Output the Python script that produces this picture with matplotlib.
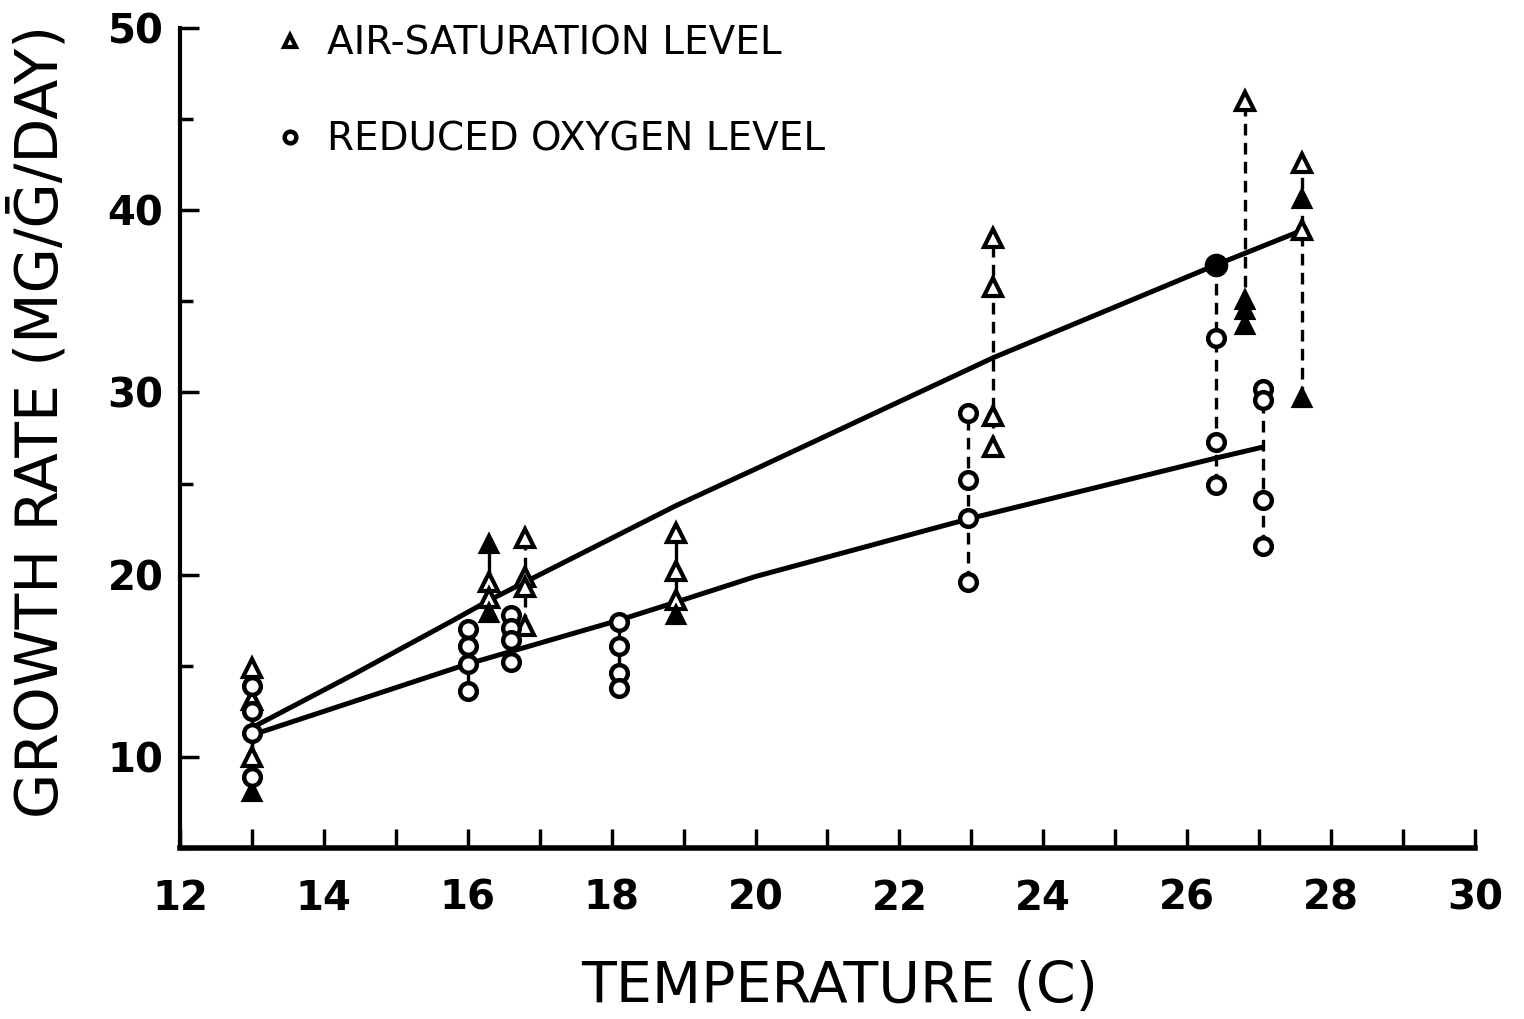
import matplotlib
matplotlib.use('Agg')
import matplotlib.pyplot as plt
import numpy as np
from matplotlib.ticker import MultipleLocator

plt.rcParams['font.family'] = 'DejaVu Sans'

# air-saturation level (triangles), one column per test temperature
air_temp = [13.0, 16.3, 16.8, 18.9, 23.3, 26.8, 27.6]
air_rates = [
    [14.9, 13.1, 10.0, 8.1],
    [21.7, 19.6, 18.7, 17.9],
    [22.0, 19.9, 19.3, 17.2],
    [22.3, 20.2, 18.6, 17.8],
    [38.5, 35.8, 28.7, 27.0],
    [46.0, 35.1, 34.5, 33.7],
    [42.6, 40.6, 38.9, 29.7],
]
air_filled = [
    [False, False, False, True],
    [True, False, False, True],
    [False, False, False, False],
    [False, False, False, True],
    [False, False, False, False],
    [False, True, True, True],
    [False, True, False, True],
]
air_dashed = [False, False, True, False, True, True, True]

# reduced oxygen level (circles)
red_temp = [13.0, 16.0, 16.6, 18.1, 22.95, 26.4, 27.05]
red_rates = [
    [13.9, 12.5, 11.3, 8.9],
    [17.0, 16.1, 15.1, 13.6],
    [17.8, 17.1, 16.4, 15.2],
    [17.4, 16.1, 14.6, 13.8],
    [28.9, 25.2, 23.1, 19.6],
    [37.0, 33.0, 27.3, 24.9],
    [30.2, 29.6, 24.1, 21.6],
]
red_filled = [
    [False] * 4,
    [False] * 4,
    [False] * 4,
    [False] * 4,
    [False] * 4,
    [True, False, False, False],
    [False] * 4,
]
red_dashed = [False, False, False, False, True, True, True]

# fitted curves
air_fit_x = [13.0, 14.4, 15.8, 16.3, 18.9, 20.0, 23.3, 26.4, 27.6]
air_fit_y = [11.6, 14.5, 17.5, 18.6, 23.8, 25.8, 31.9, 37.0, 38.9]
red_fit_x = [13.0, 16.0, 18.1, 18.9, 20.0, 23.0, 26.4, 27.05]
red_fit_y = [11.2, 15.1, 17.5, 18.5, 19.9, 23.1, 26.4, 27.0]


def flatten(temps, rates, flags):
    xs, ys, fs = [], [], []
    for t, r, f in zip(temps, rates, flags):
        xs += [t] * len(r)
        ys += r
        fs += f
    return np.array(xs), np.array(ys), np.array(fs)


def connectors(ax, temps, rates, dashed):
    for t, r, d in zip(temps, rates, dashed):
        ls = (0, (3.5, 2.2)) if d else '-'
        ax.plot([t, t], [min(r), max(r)], color='black', lw=2.4, ls=ls, zorder=2)


fig = plt.figure(figsize=(15.24, 10.19), dpi=100)
ax = fig.add_axes([0.1181, 0.1678, 0.8497, 0.8047])

ax.plot(air_fit_x, air_fit_y, color='black', lw=3.6, zorder=3, solid_capstyle='butt')
ax.plot(red_fit_x, red_fit_y, color='black', lw=3.6, zorder=3, solid_capstyle='butt')

connectors(ax, air_temp, air_rates, air_dashed)
connectors(ax, red_temp, red_rates, red_dashed)

ax_x, ax_y, ax_f = flatten(air_temp, air_rates, air_filled)
rx, ry, rf = flatten(red_temp, red_rates, red_filled)

tri, = ax.plot(ax_x[~ax_f], ax_y[~ax_f], ls='none', marker='^', markersize=13,
               mfc='white', mec='black', mew=3, zorder=4, label='AIR-SATURATION LEVEL')
ax.plot(ax_x[ax_f], ax_y[ax_f], ls='none', marker='^', markersize=12,
        mfc='black', mec='black', mew=3, zorder=4)
circ, = ax.plot(rx[~rf], ry[~rf], ls='none', marker='o', markersize=12,
                mfc='white', mec='black', mew=3.2, zorder=4, label='REDUCED OXYGEN LEVEL')
ax.plot(rx[rf], ry[rf], ls='none', marker='o', markersize=15,
        mfc='black', mec='black', mew=2, zorder=4)

ax.set_xlim(12, 30)
ax.set_ylim(5, 50)
ax.xaxis.set_major_locator(MultipleLocator(2))
ax.xaxis.set_minor_locator(MultipleLocator(1))
ax.yaxis.set_major_locator(MultipleLocator(10))
ax.yaxis.set_minor_locator(MultipleLocator(5))

for side in ['top', 'right']:
    ax.spines[side].set_visible(False)
ax.spines['left'].set_linewidth(3)
ax.spines['bottom'].set_linewidth(4)

ax.tick_params(axis='x', which='both', direction='in', length=14, width=2.5, pad=22)
ax.tick_params(axis='y', which='major', direction='in', length=14, width=2.5, pad=12)
ax.tick_params(axis='y', which='minor', direction='in', length=9, width=2.5)
for lab in ax.get_xticklabels() + ax.get_yticklabels():
    lab.set_fontsize(29)
    lab.set_fontweight('bold')

ax.set_xlabel('TEMPERATURE (C)', fontsize=41)
ax.xaxis.set_label_coords(0.509, -0.137)
ax.set_ylabel('GROWTH RATE (MG/Ḡ/DAY)', fontsize=42)
ax.yaxis.set_label_coords(-0.085, 0.52)

ax.legend(handles=[tri, circ], loc='upper left', bbox_to_anchor=(0.043, 1.047),
          frameon=False, fontsize=28, labelspacing=1.5, handletextpad=0.45,
          handlelength=1.0, markerscale=0.7)

fig.savefig('out.png', dpi=100, facecolor='white')
